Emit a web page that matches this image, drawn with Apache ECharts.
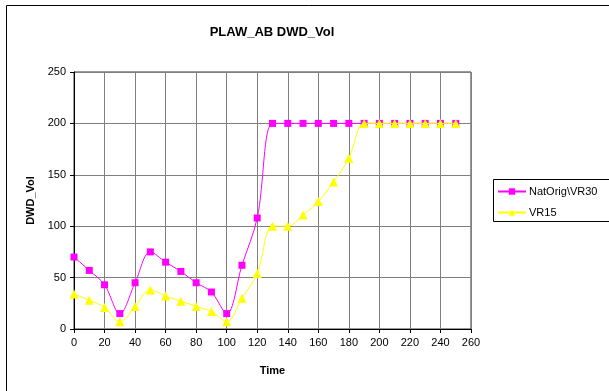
<!DOCTYPE html>
<html>
<head>
<meta charset="utf-8">
<script src="https://cdn.jsdelivr.net/npm/echarts@6/dist/echarts.min.js"></script>
<style>html,body{margin:0;padding:0;background:#fff;}#c{width:609px;height:391px;}</style>
</head>
<body>
<div id="c"></div>
<script>
var times = [0,10,20,30,40,50,60,70,80,90,100,110,120,130,140,150,160,170,180,190,200,210,220,230,240,250];
var natOrig = [70,57,43,15,45,75,65,56,45,36,15,62,108,200,200,200,200,200,200,200,200,200,200,200,200,200];
var vr15 = [34,28,21,7,22,38,32,27,22,17,7,30,54,100,100,111,124,143,166,200,200,200,200,200,200,200];
var xTicks = [0,20,40,60,80,100,120,140,160,180,200,220,240,260];
var yTicks = [0,50,100,150,200,250];

function pairs(xs, ys){ return xs.map(function(x,i){ return [x, ys[i]]; }); }

var chart = echarts.init(document.getElementById('c'), null, {renderer:'canvas'});
var font = 'Liberation Sans, Arial, sans-serif';
chart.setOption({
  animation:false,
  backgroundColor:'#fff',
  title:{text:'PLAW_AB DWD_Vol', left:267, top:21, textAlign:'center',
    textStyle:{fontFamily:font, fontSize:13, fontWeight:'bold', color:'#000'}},
  graphic:[
    {type:'rect', shape:{x:6.5,y:5.5,width:700,height:500}, style:{fill:'none', stroke:'#000', lineWidth:1}, z:-1},
    {type:'rect', shape:{x:493.5,y:179.5,width:200,height:42}, style:{fill:'#fff', stroke:'#000', lineWidth:1}, z:-1}
  ],
  legend:{left:497, top:186, orient:'vertical', padding:0, itemGap:10, itemWidth:28, itemHeight:8,
    textStyle:{fontFamily:font, fontSize:11, color:'#000', padding:[0,0,0,-2]},
    data:['NatOrig\\VR30','VR15']},
  grid:{left:74, right:138, top:72, bottom:62, show:true, borderColor:'#333', borderWidth:1},
  xAxis:{type:'value', min:0, max:260, interval:20,
    name:'Time', nameLocation:'middle', nameGap:36,
    nameTextStyle:{fontFamily:font, fontSize:11, fontWeight:'bold', color:'#000'},
    axisLine:{lineStyle:{color:'#000', width:1}},
    axisTick:{show:true, inside:false, length:4, lineStyle:{color:'#000'}},
    axisLabel:{fontFamily:font, fontSize:11, color:'#000', margin:8,
      formatter:function(v){ return xTicks.indexOf(v)>=0 ? String(v) : ''; }},
    splitLine:{show:true, lineStyle:{color:'#808080', width:1}}},
  yAxis:{type:'value', min:0, max:250, interval:50,
    name:'DWD_Vol', nameLocation:'middle', nameGap:38,
    nameTextStyle:{fontFamily:font, fontSize:11, fontWeight:'bold', color:'#000'},
    axisLine:{show:true, lineStyle:{color:'#000', width:1}},
    axisTick:{show:true, inside:false, length:4, lineStyle:{color:'#000'}},
    axisLabel:{fontFamily:font, fontSize:11, color:'#000', margin:8,
      formatter:function(v){ return yTicks.indexOf(v)>=0 ? String(v) : ''; }},
    splitLine:{show:true, lineStyle:{color:'#808080', width:1}}},
  series:[
    {name:'NatOrig\\VR30', type:'line', data:pairs(times, natOrig), smooth:0.35,
      symbol:'rect', symbolSize:7, lineStyle:{color:'#FF00FF', width:1},
      itemStyle:{color:'#FF00FF'}, z:2},
    {name:'VR15', type:'line', data:pairs(times, vr15), smooth:0.35,
      symbol:'triangle', symbolSize:9, lineStyle:{color:'#FFFF00', width:1},
      itemStyle:{color:'#FFFF00'}, z:3}
  ]
});
</script>
</body>
</html>
